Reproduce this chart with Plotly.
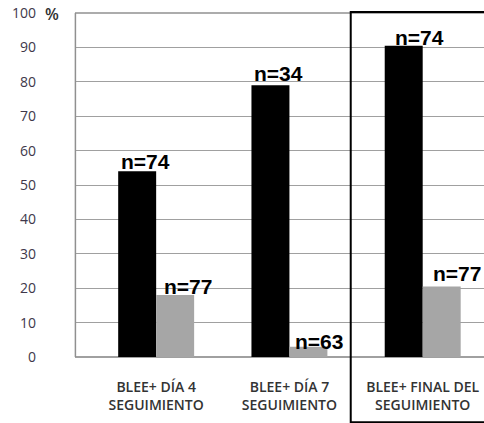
import plotly.graph_objects as go

# Categories and series values (%)
categories = ["BLEE+ DÍA 4<br>SEGUIMIENTO",
              "BLEE+ DÍA 7<br>SEGUIMIENTO",
              "BLEE+ FINAL DEL<br>SEGUIMIENTO"]
series_a = [54, 79, 90.5]
series_b = [18, 3, 20.5]
labels_a = ["n=74", "n=34", "n=74"]
labels_b = ["n=77", "n=63", "n=77"]
y_ticks = [0, 10, 20, 30, 40, 50, 60, 70, 80, 90, 100]

BARGAP = 0.43
bar_w = (1 - BARGAP) / 2
GRID = "#a0a0a0"

fig = go.Figure()
fig.add_trace(go.Bar(x=categories, y=series_a, marker=dict(color="#000000", line=dict(width=0)),
                     showlegend=False))
fig.add_trace(go.Bar(x=categories, y=series_b, marker=dict(color="#a6a6a6", line=dict(width=0)),
                     showlegend=False))

# "n=" labels sitting on top of each bar
shift_a = [(1, -4), (1, -2), (8, -5)]
shift_b = [(6, -5), (4, -8), (8, -1)]
lab_font = dict(family="Liberation Sans, Arial", size=21, color="#000000")
for i in range(len(categories)):
    fig.add_annotation(x=i - bar_w, y=series_a[i], xref="x", yref="y", text=f"<b>{labels_a[i]}</b>",
                       showarrow=False, xanchor="left", yanchor="bottom",
                       xshift=shift_a[i][0], yshift=shift_a[i][1], font=lab_font)
    fig.add_annotation(x=i, y=series_b[i], xref="x", yref="y", text=f"<b>{labels_b[i]}</b>",
                       showarrow=False, xanchor="left", yanchor="bottom",
                       xshift=shift_b[i][0], yshift=shift_b[i][1], font=lab_font)

# Unit marker next to the top tick
fig.add_annotation(x=0, y=1.0, xref="paper", yref="paper", text="%", showarrow=False,
                   xanchor="right", yanchor="middle", xshift=-14, yshift=-1,
                   font=dict(family="Open Sans", size=16, color="#303030", weight=600))

# Left axis line and top border of the plot area
fig.add_shape(type="line", xref="paper", yref="paper", x0=0.001, x1=0.001, y0=0, y1=1,
              line=dict(color="#909090", width=1.5), layer="above")
fig.add_shape(type="line", xref="paper", yref="paper", x0=0, x1=1, y0=1, y1=1,
              line=dict(color="#909090", width=1.5), layer="above")

# Frame highlighting the last group
fig.add_shape(type="rect", xref="x", yref="paper", x0=1.46, x1=2.6, y0=-0.19, y1=1.003,
              line=dict(color="#000000", width=2), fillcolor="rgba(0,0,0,0)", layer="above")

fig.update_layout(
    width=484, height=423,
    margin=dict(l=75, r=0, t=13, b=66),
    paper_bgcolor="#ffffff", plot_bgcolor="#ffffff",
    barmode="group", bargap=BARGAP, bargroupgap=0,
    font=dict(family="Open Sans", color="#3a3a3a"),
)
fig.update_xaxes(type="category", range=[-0.609, 2.46], showgrid=False, showline=False,
                 ticks="", tickfont=dict(family="Open Sans", size=14, color="#333333", weight=600),
                 ticklabelstandoff=20)
fig.update_yaxes(range=[0, 100], tickvals=y_ticks, showgrid=True, gridcolor=GRID, gridwidth=1,
                 showline=False, zeroline=True,
                 zerolinecolor=GRID, ticks="", ticklabelstandoff=38,
                 tickfont=dict(family="Open Sans", size=14, color="#40384a"))

fig.write_html("out.html")
